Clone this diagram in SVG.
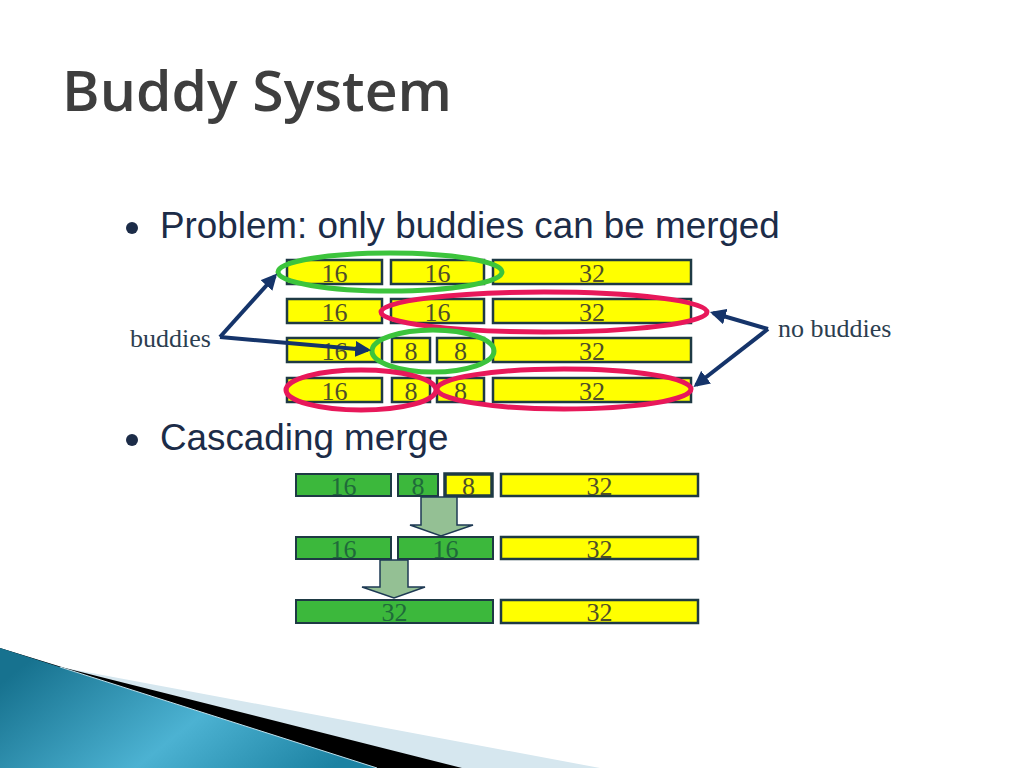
<svg xmlns="http://www.w3.org/2000/svg" width="1024" height="768" viewBox="0 0 1024 768">
<defs>
<style>
.title{font-family:"Open Sans","Liberation Sans",sans-serif;font-weight:600;font-size:56px;fill:#3e3e3e}
.bul{font-family:"Liberation Sans",Arial,sans-serif;font-size:36.8px;fill:#1c2c48}
.lbl{font-family:"Liberation Serif","Times New Roman",serif;font-size:26px;fill:#2c3e50}
.bt{font-family:"Liberation Serif","Times New Roman",serif;font-size:26px;text-anchor:middle}
.y rect{fill:#ffff00;stroke:#1e3a44;stroke-width:2.5}
.y text{fill:#4e4e2a}
.g rect{fill:#3cb83c;stroke:#1e3a44;stroke-width:2}
.g text{fill:#1f6a3a}
.eg{fill:none;stroke:#3cc43c;stroke-width:5}
.er{fill:none;stroke:#e8185a;stroke-width:5}
.arr{fill:none;stroke:#15346a;stroke-width:4}
.down{fill:#94c094;stroke:#1e3a54;stroke-width:1.5}
</style>
<marker id="ah" viewBox="0 0 10 10" refX="8" refY="5" markerWidth="4" markerHeight="4" orient="auto" markerUnits="strokeWidth">
<path d="M0,0 L10,5 L0,10 Z" fill="#15346a"/>
</marker>
<linearGradient id="teal" x1="0" y1="0.3" x2="1" y2="0.7">
<stop offset="0" stop-color="#17728f"/>
<stop offset="0.55" stop-color="#4cb2d2"/>
<stop offset="1" stop-color="#1c82a2"/>
</linearGradient>
</defs>
<rect width="1024" height="768" fill="#ffffff"/>

<g id="ribbon">
<path d="M0,648 L65,668 L600,768 L0,768 Z" fill="#d6e7ef"/>
<path d="M0,648 L65,668 L462,768 L0,768 Z" fill="#000000"/>
<path d="M0,648 L377,768 L0,768 Z" fill="url(#teal)"/>
<path d="M60,667 L377,768" stroke="#bfe0ec" stroke-width="1" fill="none"/>
</g>

<text class="title" x="62" y="111" textLength="390" lengthAdjust="spacingAndGlyphs">Buddy System</text>

<circle cx="132" cy="228" r="6" fill="#1c2c48"/>
<text class="bul" x="160" y="238">Problem: only buddies can be merged</text>
<circle cx="132" cy="440" r="6" fill="#1c2c48"/>
<text class="bul" x="160" y="450">Cascading merge</text>

<g id="row1" class="y">
<rect x="287" y="260" width="95" height="24"/><text class="bt" x="334.5" y="282">16</text>
<rect x="391" y="260" width="93" height="24"/><text class="bt" x="437.5" y="282">16</text>
<rect x="493" y="260" width="198" height="24"/><text class="bt" x="592" y="282">32</text>
</g>
<g id="row2" class="y">
<rect x="287" y="299" width="95" height="24"/><text class="bt" x="334.5" y="321">16</text>
<rect x="391" y="299" width="93" height="24"/><text class="bt" x="437.5" y="321">16</text>
<rect x="493" y="299" width="198" height="24"/><text class="bt" x="592" y="321">32</text>
</g>
<g id="row3" class="y">
<rect x="287" y="338" width="95" height="24"/><text class="bt" x="334.5" y="360">16</text>
<rect x="392" y="338" width="38" height="24"/><text class="bt" x="411" y="360">8</text>
<rect x="437" y="338" width="47" height="24"/><text class="bt" x="460.5" y="360">8</text>
<rect x="493" y="338" width="198" height="24"/><text class="bt" x="592" y="360">32</text>
</g>
<g id="row4" class="y">
<rect x="287" y="378" width="95" height="24"/><text class="bt" x="334.5" y="400">16</text>
<rect x="392" y="378" width="38" height="24"/><text class="bt" x="411" y="400">8</text>
<rect x="437" y="378" width="47" height="24"/><text class="bt" x="460.5" y="400">8</text>
<rect x="493" y="378" width="198" height="24"/><text class="bt" x="592" y="400">32</text>
</g>

<g id="ellipses">
<ellipse class="eg" cx="390" cy="272" rx="112" ry="19"/>
<ellipse class="er" cx="544" cy="312" rx="163" ry="20"/>
<ellipse class="eg" cx="433" cy="351" rx="61" ry="21"/>
<ellipse class="er" cx="361" cy="390" rx="75" ry="20"/>
<ellipse class="er" cx="564" cy="389" rx="127" ry="20"/>
</g>

<text class="lbl" x="130" y="347">buddies</text>
<text class="lbl" x="778" y="337">no buddies</text>

<g id="connectors">
<path class="arr" d="M220,337 L275,276" marker-end="url(#ah)"/>
<path class="arr" d="M220,337 L368,350" marker-end="url(#ah)"/>
<path class="arr" d="M768,329 L713,313" marker-end="url(#ah)"/>
<path class="arr" d="M768,329 L696,385" marker-end="url(#ah)"/>
</g>

<g id="c1">
<g class="g">
<rect x="296" y="474" width="95" height="22"/><text class="bt" x="343.5" y="495">16</text>
<rect x="398" y="474" width="40" height="22"/><text class="bt" x="418" y="495">8</text>
</g>
<g class="y">
<rect x="445" y="474" width="47" height="22" style="stroke-width:3.5"/><text class="bt" x="468.5" y="495">8</text>
<rect x="501" y="474" width="197" height="22"/><text class="bt" x="599.5" y="495">32</text>
</g>
</g>
<g id="c2">
<g class="g">
<rect x="296" y="537" width="95" height="22"/><text class="bt" x="343.5" y="558">16</text>
<rect x="398" y="537" width="95" height="22"/><text class="bt" x="445.5" y="558">16</text>
</g>
<g class="y"><rect x="501" y="537" width="197" height="22"/><text class="bt" x="599.5" y="558">32</text></g>
</g>
<g id="c3">
<g class="g"><rect x="296" y="600" width="197" height="23"/><text class="bt" x="394.5" y="621">32</text></g>
<g class="y"><rect x="501" y="600" width="197" height="23"/><text class="bt" x="599.5" y="621">32</text></g>
</g>

<g id="mergeArrows">
<path class="down" d="M421,497 L457,497 L457,525 L473,525 L441,536 L410,525 L421,525 Z"/>
<path class="down" d="M380,560 L408,560 L408,587 L425,587 L394,598 L362,587 L380,587 Z"/>
</g>
</svg>
